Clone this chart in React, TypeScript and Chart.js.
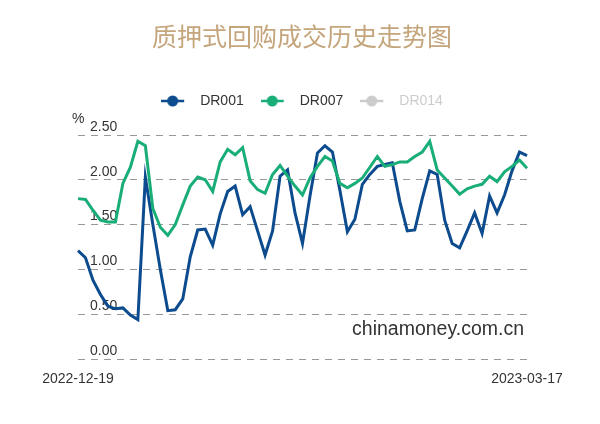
import React, { useEffect, useRef } from 'react';
import { Chart, registerables } from 'chart.js';

Chart.register(...registerables);

const chartTitle = '质押式回购成交历史走势图';
const unitLabel = '%';
const watermarkText = 'chinamoney.com.cn';
const seriesNames = ['DR001', 'DR007', 'DR014'];
const seriesColors = ['#0c4b8e', '#19ad78', '#cccccc'];

const dates = [
  '2022-12-19', '2022-12-20', '2022-12-21', '2022-12-22', '2022-12-23',
  '2022-12-26', '2022-12-27', '2022-12-28', '2022-12-29', '2022-12-30',
  '2023-01-03', '2023-01-04', '2023-01-05', '2023-01-06',
  '2023-01-09', '2023-01-10', '2023-01-11', '2023-01-12', '2023-01-13',
  '2023-01-16', '2023-01-17', '2023-01-18', '2023-01-19', '2023-01-20',
  '2023-01-28', '2023-01-29',
  '2023-01-30', '2023-01-31', '2023-02-01', '2023-02-02', '2023-02-03',
  '2023-02-06', '2023-02-07', '2023-02-08', '2023-02-09', '2023-02-10',
  '2023-02-13', '2023-02-14', '2023-02-15', '2023-02-16', '2023-02-17',
  '2023-02-20', '2023-02-21', '2023-02-22', '2023-02-23', '2023-02-24',
  '2023-02-27', '2023-02-28', '2023-03-01', '2023-03-02', '2023-03-03',
  '2023-03-06', '2023-03-07', '2023-03-08', '2023-03-09', '2023-03-10',
  '2023-03-13', '2023-03-14', '2023-03-15', '2023-03-16', '2023-03-17',
];

const dr001 = [
  1.21, 1.13, 0.88, 0.72, 0.59, 0.56, 0.57, 0.49, 0.44, 2.03,
  1.50, 1.00, 0.54, 0.55, 0.67, 1.14, 1.44, 1.45, 1.27, 1.62,
  1.87, 1.93, 1.61, 1.70, 1.43, 1.16, 1.43, 2.04, 2.11, 1.63,
  1.29, 1.82, 2.30, 2.38, 2.31, 1.88, 1.42, 1.56, 1.95, 2.06,
  2.15, 2.17, 2.19, 1.76, 1.43, 1.44, 1.79, 2.10, 2.06, 1.55,
  1.29, 1.24, 1.43, 1.63, 1.40, 1.82, 1.63, 1.83, 2.10, 2.31,
  2.27,
];

const dr007 = [
  1.79, 1.78, 1.66, 1.55, 1.53, 1.53, 1.96, 2.14, 2.43, 2.38,
  1.68, 1.47, 1.38, 1.50, 1.72, 1.93, 2.03, 2.00, 1.87, 2.20,
  2.34, 2.28, 2.36, 1.99, 1.89, 1.85, 2.06, 2.16, 2.04, 1.93,
  1.83, 2.02, 2.15, 2.26, 2.21, 1.96, 1.91, 1.96, 2.02, 2.14,
  2.26, 2.15, 2.17, 2.20, 2.20, 2.26, 2.31, 2.43, 2.11, 2.02,
  1.93, 1.84, 1.90, 1.93, 1.95, 2.04, 1.98, 2.09, 2.15, 2.22,
  2.13,
];

const dr014: number[] = [];

const yMin = 0;
const yMax = 2.5;
const yStep = 0.5;

const latinFont = '"Liberation Sans", Arial, Helvetica, sans-serif';

function makeIcon(color: string): HTMLCanvasElement {
  const c = document.createElement('canvas');
  c.width = 32;
  c.height = 14;
  const ctx = c.getContext('2d')!;
  ctx.strokeStyle = color;
  ctx.lineWidth = 2.5;
  ctx.beginPath();
  ctx.moveTo(0, 7);
  ctx.lineTo(23, 7);
  ctx.stroke();
  ctx.fillStyle = color;
  ctx.beginPath();
  ctx.arc(11.5, 7, 5.5, 0, Math.PI * 2);
  ctx.fill();
  return c;
}

const extrasPlugin = {
  id: 'extras',
  afterDraw(chart: any) {
    const { ctx, chartArea } = chart;
    ctx.save();
    ctx.fillStyle = '#333';
    ctx.font = `14px ${latinFont}`;
    ctx.textAlign = 'left';
    ctx.textBaseline = 'middle';
    ctx.fillText(unitLabel, chartArea.left - 6, chartArea.top - 16);
    ctx.font = `19.5px ${latinFont}`;
    ctx.textAlign = 'right';
    ctx.textBaseline = 'alphabetic';
    ctx.fillText(watermarkText, chartArea.right - 3, chartArea.bottom - 24);
    ctx.restore();
  },
};

export default function App() {
  const ref = useRef<HTMLCanvasElement>(null);

  useEffect(() => {
    document.body.style.margin = '0';
    const icons = seriesColors.map((c) => makeIcon(c));
    const chart = new Chart(ref.current!, {
      type: 'line',
      data: {
        labels: dates,
        datasets: [
          {
            label: seriesNames[0],
            data: dr001,
            borderColor: seriesColors[0],
            backgroundColor: seriesColors[0],
            borderWidth: 3,
            pointRadius: 0,
            tension: 0,
            order: 1,
          },
          {
            label: seriesNames[1],
            data: dr007,
            borderColor: seriesColors[1],
            backgroundColor: seriesColors[1],
            borderWidth: 3,
            pointRadius: 0,
            tension: 0,
            order: 0,
          },
          {
            label: seriesNames[2],
            data: dr014,
            borderColor: seriesColors[2],
            backgroundColor: seriesColors[2],
            borderWidth: 3,
            pointRadius: 0,
            hidden: true,
            order: 2,
          },
        ],
      },
      options: {
        responsive: false,
        animation: false,
        layout: { padding: { left: 4, right: 0, top: 0, bottom: 0 } },
        font: { family: latinFont },
        plugins: {
          title: {
            display: true,
            text: chartTitle,
            color: '#c4a57c',
            font: { family: '"Noto Sans CJK SC", sans-serif', size: 25, weight: 'normal' },
            padding: { top: 21, bottom: 26 },
          },
          legend: {
            display: true,
            position: 'top',
            labels: {
              usePointStyle: true,
              pointStyleWidth: 32,
              padding: 17,
              color: '#333',
              font: { family: latinFont, size: 14 },
              generateLabels: (ch: any) =>
                ch.data.datasets.map((ds: any, i: number) => {
                  const visible = ch.isDatasetVisible(i);
                  return {
                    text: ds.label,
                    datasetIndex: i,
                    hidden: false,
                    fontColor: visible ? '#333' : '#cccccc',
                    pointStyle: icons[i],
                    fillStyle: seriesColors[i],
                    strokeStyle: seriesColors[i],
                    lineWidth: 0,
                  };
                }),
            },
          },
          tooltip: { enabled: false },
        },
        scales: {
          x: {
            type: 'category',
            grid: { display: false, drawTicks: false },
            border: { display: false },
            ticks: {
              autoSkip: false,
              maxRotation: 0,
              minRotation: 0,
              padding: 12,
              color: '#333',
              font: { family: latinFont, size: 14 },
              callback: function (this: any, _v: any, idx: number) {
                return idx === 0 || idx === dates.length - 1 ? dates[idx] : '';
              },
            },
            afterFit: (s: any) => {
              s.height = 65;
            },
          },
          xTop: {
            type: 'category',
            position: 'top',
            display: true,
            grid: { display: false, drawTicks: false },
            border: { display: false },
            ticks: { display: false },
            afterFit: (s: any) => {
              s.height = 17;
            },
          },
          y: {
            type: 'linear',
            position: 'left',
            min: yMin,
            max: yMax,
            grid: { color: '#999', lineWidth: 1, drawTicks: false },
            border: { display: false, dash: [7, 6] },
            ticks: {
              stepSize: yStep,
              mirror: true,
              padding: 12,
              labelOffset: -8,
              color: '#333',
              font: { family: latinFont, size: 14 },
              callback: (v: any) => Number(v).toFixed(2),
            },
            afterFit: (s: any) => {
              s.width = 74;
            },
          },
          yR: {
            type: 'linear',
            position: 'right',
            display: true,
            grid: { display: false, drawTicks: false },
            border: { display: false },
            ticks: { display: false },
            afterFit: (s: any) => {
              s.width = 73;
            },
          },
        },
      },
      plugins: [extrasPlugin],
    } as any);
    return () => chart.destroy();
  }, []);

  return (
    <div style={{ width: 600, height: 424 }}>
      <canvas ref={ref} width={600} height={424} style={{ display: 'block' }} />
    </div>
  );
}
